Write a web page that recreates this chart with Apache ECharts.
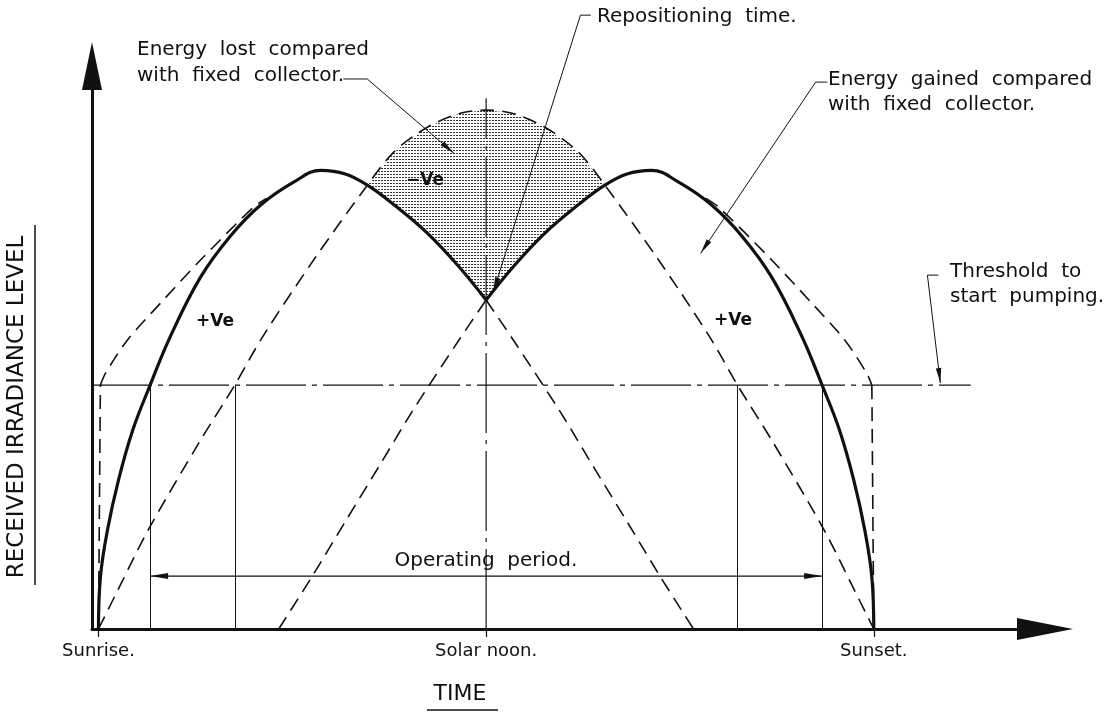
<!DOCTYPE html>
<html>
<head>
<meta charset="utf-8">
<title>Tracking collector vs fixed collector</title>
<script src="https://cdn.jsdelivr.net/npm/echarts@6.0.0/dist/echarts.min.js"></script>
<style>html,body{margin:0;background:#fff}#root{width:1115px;height:714px}</style>
</head>
<body>
<div id="root"></div>
<script>
// x: time of day in hours (sunrise 6, noon 12, sunset 18); y: irradiance, fixed collector peak = 1000
const timeTicks = [6, 12, 18];
const tickLabels = ['Sunrise.', 'Solar noon.', 'Sunset.'];

const fixedCollector = [[6,0],[6.34,85],[6.77,191],[7.58,364],[8.11,470],[8.54,563],[9.33,711],[10.13,850],[10.57,919],[11.09,967],[11.6,994],[12,1000],
  [12.4,994],[12.91,967],[13.43,919],[13.87,850],[14.67,711],[15.46,563],[15.89,470],[16.42,364],[17.23,191],[17.66,85],[18,0]];
const trackingMorning = [[6,0],[6.03,100],[6.14,191],[6.31,287],[6.53,383],[6.8,470],[7.11,563],[7.58,678],[8.04,757],[8.51,817],[9.02,861],[9.44,884],
  [9.82,877],[10.18,854],[10.6,815],[11.09,763],[11.56,701],[12,634]];
const trackingAfternoon = [[12,634],[12.44,701],[12.91,763],[13.4,815],[13.82,854],[14.18,877],[14.56,884],[14.98,861],[15.49,817],[15.96,757],
  [16.42,678],[16.89,563],[17.2,470],[17.47,383],[17.69,287],[17.86,191],[17.97,100],[18,0]];
const morningAfterNoon = [[12,634],[12.42,557],[13.15,418],[13.66,313],[14.19,205],[14.7,100],[15.21,0]];
const afternoonBeforeNoon = [[8.79,0],[9.3,100],[9.81,205],[10.34,313],[10.85,418],[11.58,557],[12,634]];
const sunriseEdge = [[6,0],[6.03,470]];
const envelopeMorning = [[6.03,470],[6.11,493],[6.45,557],[6.96,628],[7.58,711],[8.4,813],[8.6,830]];
const envelopeEvening = [[15.4,830],[15.6,813],[16.42,711],[17.04,628],[17.55,557],[17.89,493],[17.97,470]];
const sunsetEdge = [[17.97,470],[18,0]];

const threshold = 470;
const thresholdSpan = [5.9, 19.5];
const trackingStartStop = [6.8, 17.2];
const fixedStartStop = [8.11, 15.89];
const operatingLevel = 102;
const noonLineTop = 1023;
const lossSpan = [10.13, 13.87];

// leader lines: [label end, corner, arrow tip]
const leaderLost = [[9.79,1060],[10.16,1060],[11.5,917]];
const leaderRepositioning = [[13.62,1183],[13.46,1183],[12.11,649]];
const leaderGained = [[17.28,1054],[17.1,1054],[15.32,724]];
const leaderThreshold = [[19.0,682],[18.83,682],[19.03,474]];

const ink = '#111';
const FONT = 'DejaVu Sans';

// stipple pattern for the "energy lost" area
const tile = document.createElement('canvas');
tile.width = tile.height = 3;
const tc = tile.getContext('2d');
tc.fillStyle = '#fff'; tc.fillRect(0, 0, 3, 3);
tc.fillStyle = '#333'; tc.fillRect(0, 0, 2, 1);
const stipple = { image: tile, repeat: 'repeat' };

function lossPolygon(){
  const top = fixedCollector.filter(p => p[0] >= lossSpan[0] && p[0] <= lossSpan[1]);
  const pm = trackingAfternoon.filter(p => p[0] <= lossSpan[1]).reverse();
  const am = trackingMorning.filter(p => p[0] >= lossSpan[0]).reverse();
  return top.concat(pm, am);
}

const dashed = { color: ink, width: 1.6, type: [14, 8] };
function curve(name, data, lineStyle, z, smooth){
  return { name, type: 'line', data, smooth: smooth === undefined ? 0.3 : smooth, showSymbol: false, silent: true, z: z || 3, lineStyle };
}

const chart = echarts.init(document.getElementById('root'));
chart.setOption({
  animation: false,
  grid: { left: 92, right: 70, top: 66, bottom: 85 },
  xAxis: {
    type: 'value', min: 5.9, max: 20.65, splitLine: { show: false },
    axisLine: { lineStyle: { color: ink, width: 3 }, symbol: ['none', 'triangle'], symbolSize: [22, 56] },
    axisTick: { show: true, customValues: timeTicks, length: 8, lineStyle: { color: ink, width: 1.2 } },
    axisLabel: { customValues: timeTicks, formatter: v => tickLabels[timeTicks.indexOf(v)], margin: 13, fontSize: 18, color: ink, fontFamily: FONT }
  },
  yAxis: {
    type: 'value', min: 0, max: 1085, splitLine: { show: false },
    axisLine: { show: true, lineStyle: { color: ink, width: 3 }, symbol: ['none', 'triangle'], symbolSize: [20, 48] },
    axisTick: { show: false }, axisLabel: { show: false }
  },
  series: [
    { type: 'custom', z: 1, silent: true, data: [0],
      renderItem: (params, api) => ({ type: 'polygon', shape: { points: lossPolygon().map(p => api.coord(p)) }, style: { fill: stipple } }) },
    curve('Fixed collector', fixedCollector, dashed),
    curve('Morning position after noon', morningAfterNoon, dashed),
    curve('Afternoon position before noon', afternoonBeforeNoon, dashed),
    curve('Sunrise edge', sunriseEdge, dashed, 3, false),
    curve('Envelope AM', envelopeMorning, dashed),
    curve('Envelope PM', envelopeEvening, dashed),
    curve('Sunset edge', sunsetEdge, dashed, 3, false),
    curve('Tracking AM', trackingMorning, { color: ink, width: 3.2 }, 5, 0.4),
    curve('Tracking PM', trackingAfternoon, { color: ink, width: 3.2 }, 5, 0.4),
    { name: 'Noon', type: 'line', data: [[12, 0], [12, noonLineTop]], showSymbol: false, silent: true, z: 2,
      lineStyle: { color: ink, width: 1.2, type: [80, 7, 4, 7] } },
    { name: 'Operating period', type: 'line', data: [[trackingStartStop[0], operatingLevel], [trackingStartStop[1], operatingLevel]],
      showSymbol: false, silent: true, z: 2, lineStyle: { color: ink, width: 1.2 } },
    { name: 'Threshold', type: 'line', data: [[thresholdSpan[0], threshold], [thresholdSpan[1], threshold]], showSymbol: false, silent: true, z: 2,
      lineStyle: { color: ink, width: 1.3, type: [60, 6, 5, 6] },
      markLine: { silent: true, symbol: 'none', label: { show: false }, lineStyle: { type: 'solid', width: 1, color: ink },
        data: trackingStartStop.concat(fixedStartStop).map(h => [{ coord: [h, 0] }, { coord: [h, threshold] }]) } }
  ]
});

// annotations: pixel positions taken from the axes
const px = p => chart.convertToPixel({ xAxisIndex: 0, yAxisIndex: 0 }, p);
function arrowHead(tip, from, len, half){
  const dx = tip[0] - from[0], dy = tip[1] - from[1], d = Math.hypot(dx, dy);
  const ux = dx / d, uy = dy / d, bx = tip[0] - ux * len, by = tip[1] - uy * len;
  return { type: 'polygon', z: 20, shape: { points: [tip, [bx - uy * half, by + ux * half], [bx + uy * half, by - ux * half]] }, style: { fill: ink } };
}
function leader(pts){
  const p = pts.map(px);
  return [
    { type: 'polyline', z: 19, shape: { points: p }, style: { stroke: ink, lineWidth: 1, fill: null } },
    arrowHead(p[2], p[1], 15, 2.7)
  ];
}
function text(t, x, y, size, align, extra){
  return Object.assign({ type: 'text', x, y, z: 30, style: Object.assign({ text: t, fill: ink, fontSize: size, fontFamily: FONT, align, verticalAlign: 'middle' }, extra || {}) });
}
const label = (t, x, y) => text(t, x, y, 20, 'left');
const bold = (t, x, y) => text(t, x, y, 17, 'center', { fontWeight: 'bold' });
const opA = px([trackingStartStop[0], operatingLevel]), opB = px([trackingStartStop[1], operatingLevel]);

chart.setOption({ graphic: [
  ...leader(leaderLost), ...leader(leaderRepositioning), ...leader(leaderGained), ...leader(leaderThreshold),
  arrowHead(opA, [opA[0] + 30, opA[1]], 18, 3), arrowHead(opB, [opB[0] - 30, opB[1]], 18, 3),
  label('Energy  lost  compared', 137, 50), label('with  fixed  collector.', 137, 76),
  label('Repositioning  time.', 597, 17),
  label('Energy  gained  compared', 828, 80), label('with  fixed  collector.', 828, 105),
  label('Threshold  to', 950, 272), label('start  pumping.', 950, 297),
  text('Operating  period.', 486, 561, 20, 'center'),
  bold('\u2212Ve', 425, 181), bold('+Ve', 215, 322), bold('+Ve', 733, 321),
  text('TIME', 460, 694, 22, 'center'),
  { type: 'line', z: 30, shape: { x1: 427, y1: 710, x2: 498, y2: 710 }, style: { stroke: ink, lineWidth: 1.5 } },
  Object.assign(text('RECEIVED IRRADIANCE LEVEL', 17, 407, 23, 'center'), { rotation: Math.PI / 2 }),
  { type: 'line', z: 30, shape: { x1: 35, y1: 225, x2: 35, y2: 585 }, style: { stroke: ink, lineWidth: 1.5 } }
] });
</script>
</body>
</html>
